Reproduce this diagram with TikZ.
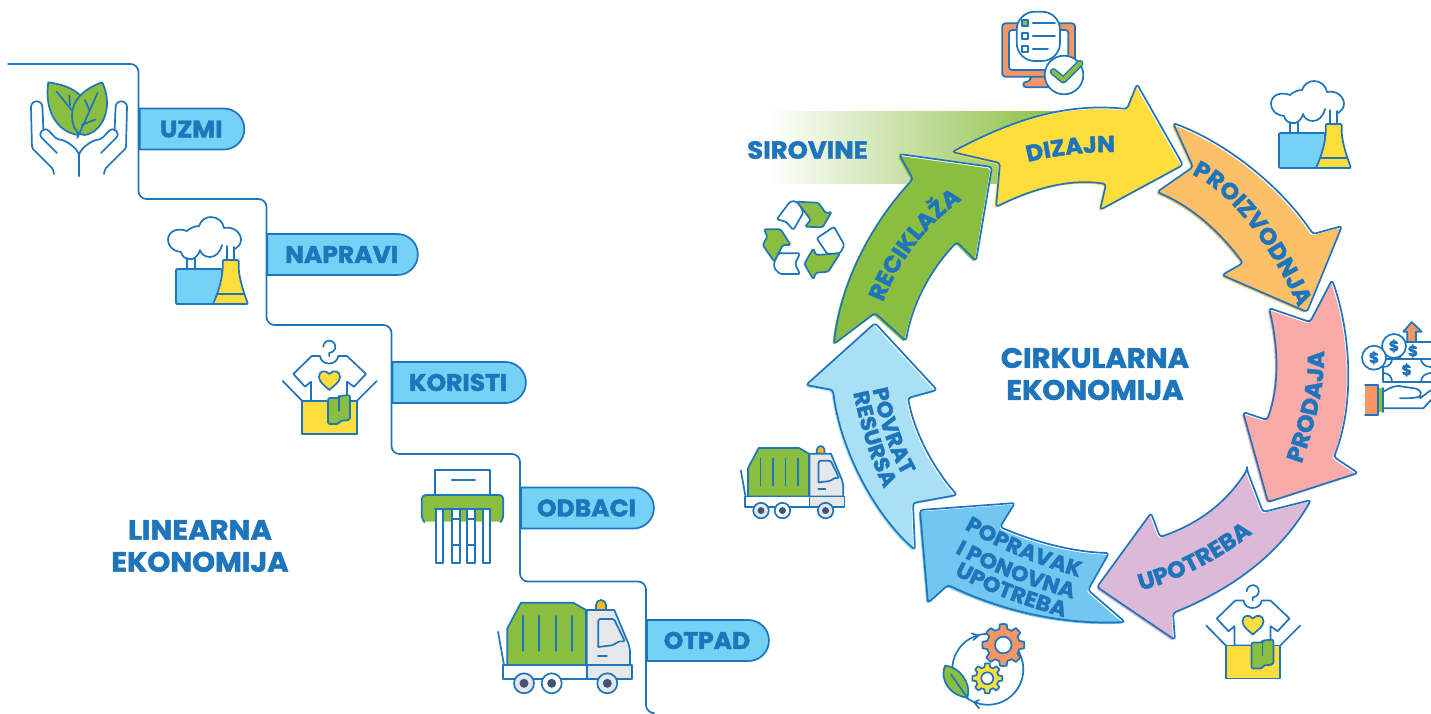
\documentclass[tikz,border=0pt]{standalone}
\usepackage{fontspec}
\usetikzlibrary{decorations.text,shapes.misc,arrows.meta}
\newfontfamily\pop[BoldFeatures={FakeStretch=1.04,FakeBold=1.8}]{Poppins}
\definecolor{ink}{HTML}{1F75BC}
\definecolor{pillc}{HTML}{75D1F5}
\definecolor{leaf}{HTML}{8ABE41}
\definecolor{sun}{HTML}{FFDD3C}
\definecolor{amber}{HTML}{FDC068}
\definecolor{rose}{HTML}{F8ABA8}
\definecolor{lilac}{HTML}{DDB9D8}
\definecolor{sky}{HTML}{72C7F0}
\definecolor{ice}{HTML}{A9E0F6}
\definecolor{coral}{HTML}{F79564}
\definecolor{steel}{HTML}{E6E7E8}
\definecolor{slate}{HTML}{3F5578}
\definecolor{beacon}{HTML}{FDB913}
\newcommand\capfont{\pop\bfseries\fontsize{24}{24}\selectfont}
\newcommand\headfont{\pop\bfseries\fontsize{28}{32}\selectfont}
\newcommand\arwfont{\pop\bfseries\fontsize{23}{23}\selectfont\color{ink}}
\newcommand\smfont{\pop\bfseries\fontsize{21.5}{21.5}\selectfont\color{ink}}
\newcommand\dollarfont{\pop\bfseries\fontsize{15}{15}\selectfont}
\newcommand\curvetxt[3]{\path[decorate,decoration={text along path,text align=center,text={|#1|#2}}] #3;}
\newcommand\arw[2]{%
  \fill[white,rounded corners=3] #1;
  \fill[#2,rounded corners=3,shift={(-1.6,1.6)}] #1;
  \draw[lin,rounded corners=3] #1;}
\newcommand\factoryicon{%
  \draw[lin] (186.7,258)--(186.7,270) (195,258)--(195,270) (226.7,246)--(226.7,260) (234,247)--(234,260);
  \draw[lin,fill=pillc,rounded corners=1] (176,269) rectangle (222,304);
  \draw[lin,fill=sun,rounded corners=1] (222.7,260) -- (238.7,260) -- (238.7,268) .. controls (239.5,280) and (244,293) .. (248,304) -- (213,304) .. controls (218,293) and (222,280) .. (222.7,268) -- cycle;
  \draw[lin] (217,294)--(244.5,294);
  \draw[lin] (235,249) .. controls (238,247) and (241,244) .. (241,240) .. controls (241,233) and (234,226) .. (224,228) .. controls (223,222) and (218,217) .. (211,217) .. controls (206,217) and (201,220) .. (199,226) .. controls (195,226) and (190,228) .. (187,231) .. controls (176,227) and (168,232) .. (168,240) .. controls (168,245) and (172,251) .. (181,252) .. controls (182,256) and (185,259) .. (189,259) .. controls (193,260) and (198,257) .. (200,250) .. controls (201,254) and (205,257) .. (210,257) .. controls (215,257) and (220,253) .. (222,245);}
\newcommand\shirticon{%
  \draw[lin] (323.3,346.7) arc[start angle=180,end angle=450,radius=6] -- (329.3,356);
  \draw[lin,fill=white] (311.7,356) -- (320,356) .. controls (321,366) and (337,366) .. (338.3,356) -- (347,356) -- (366,374) -- (354,386.7) -- (347,381.7) -- (347,401) -- (311,401) -- (311,381.7) -- (305,386.7) -- (293.3,374) -- cycle;
  \draw[lin,fill=sun] (329.3,374) .. controls (325,369) and (319,371) .. (319,377) .. controls (319,382) and (325,386) .. (329.3,390) .. controls (333.5,386) and (340,382) .. (340,377) .. controls (340,371) and (333.5,369) .. (329.3,374) -- cycle;
  \draw[lin,fill=sun] (302.3,401) rectangle (356.7,434);
  \draw[lin] (302.3,401)--(282.7,381) (356.7,401)--(376.7,381);
  \draw[lin,fill=leaf,rounded corners=2] (328,398) -- (339,398) -- (339,396) -- (350,395) -- (350,420) -- (339,421) -- (339,424) -- (328,424) -- cycle;
  \draw[lin] (339,396)--(339,411);}
\newcommand\truckicon{%
  \draw[lin] (498,631.7)--(504,665);
  \draw[lin,fill=leaf] (507.3,665)--(507.3,628.3)--(521,602.7)--(573.3,602.7)--(586,610)--(586,665)--cycle;
  \foreach \rx in {523.3,539.3,555.7,571.7}{\draw[lin] (\rx,616)--(\rx,651);}
  \draw[lin,fill=beacon] (596,610) -- (596,605) arc[start angle=180,end angle=360,radius=5] -- (606,610) -- cycle;
  \draw[lin,fill=steel] (586.7,610)--(614.3,610)--(628.3,643.3)--(630,650)--(630,665)--(586.7,665)--cycle;
  \draw[lin,rounded corners=1.5] (598.3,647)--(598.3,619)--(614,619)--(625,641.7) .. controls (618,640) and (615,645) .. (610,645.5) -- (598.3,647);
  \draw[lin] (598,655.7)--(607,655.7);
  \draw[lin,fill=white] (503.3,665) rectangle (586.7,679);
  \draw[lin,fill=steel] (586.7,665) rectangle (631.7,679);
  \foreach \wx in {524,607.3}{
    \draw[lin,fill=steel] (\wx,683.3) circle[radius=10];
    \fill[slate] (\wx,683.3) circle[radius=4.5];}
  \draw[lin,fill=white] (551.7,683.3) circle[radius=10];
  \fill[slate] (551.7,683.3) circle[radius=4.5];}
\newcommand\gearicon[7]{% cx cy ro ri hole colour teeth
  \pgfmathsetmacro\stp{360/#7}
  \draw[lin,fill=#6,line join=round] ([shift={(#1,#2)}]0:#3)
    \foreach \k in {1,...,#7}{
      -- ([shift={(#1,#2)}]\k*\stp-\stp+0.2*\stp:#3)
      -- ([shift={(#1,#2)}]\k*\stp-\stp+0.32*\stp:#4)
      -- ([shift={(#1,#2)}]\k*\stp-\stp+0.68*\stp:#4)
      -- ([shift={(#1,#2)}]\k*\stp-\stp+0.8*\stp:#3)
      -- ([shift={(#1,#2)}]\k*\stp:#3)
    } -- cycle;
  \draw[lin,fill=white] (#1,#2) circle[radius=#5];}
\tikzset{
  lin/.style={draw=ink,line width=1.7,line join=round,line cap=round},
  pill/.style={rounded rectangle,rounded rectangle west arc=none,draw=ink,line width=1.7,fill=pillc,minimum height=41,inner sep=0,text=ink,font=\capfont},
  headline/.style={text=ink,font=\headfont,inner sep=0,align=center}
}
\begin{document}
\begin{tikzpicture}[x=1pt,y=-1pt]
\useasboundingbox (0,0) rectangle (1431,713);
% ---------- staircase ----------
\coordinate (s0) at (8,64);
\coordinate (s1) at (138.5,64);
\coordinate (s2) at (138.5,199);
\coordinate (s3) at (266.5,199);
\coordinate (s4) at (266.5,325);
\coordinate (s5) at (391.5,325);
\coordinate (s6) at (391.5,454);
\coordinate (s7) at (520,454);
\coordinate (s8) at (520,581.5);
\coordinate (s9) at (646,581.5);
\coordinate (s10) at (646,713);
\coordinate (s11) at (652,713);
\draw[lin,rounded corners=8] (s0)--(s1)--(s2)--(s3)--(s4)--(s5)--(s6)--(s7)--(s8)--(s9)--(s10)--(s11);
% ---------- pills ----------
\node[pill,minimum width=104.5] (uzmi) at (191.2,129) {UZMI};
\node[pill,minimum width=150.5] (napravi) at (341.7,254.5) {NAPRAVI};
\node[pill,minimum width=133.5] (koristi) at (458.2,382.5) {KORISTI};
\node[pill,minimum width=133] (odbaci) at (586.5,508) {ODBACI};
\node[pill,minimum width=122] (otpad) at (707,640.5) {OTPAD};
\node[headline] (linear) at (200,546) {LINEARNA\\EKONOMIJA};
% ---------- hands and leaves ----------
\foreach \sc/\sh in {1/0,-1/158}{
\begin{scope}[shift={(\sh,0)},xscale=\sc]
  \draw[lin,rounded corners=1.5] (54,174)--(53,169)--(32,148)--(31,107);
  \draw[lin] (31,107) arc[start angle=180,end angle=360,radius=5.7] -- (43.4,130);
  \draw[lin] (57,153)--(42,138) .. controls (37,133) and (44,126) .. (49,131) .. controls (54,136) and (56,140) .. (62,140) .. controls (69,142) and (79,150) .. (79,156)--(79,176);
\end{scope}}
\draw[lin,fill=leaf] (48.3,82.3) .. controls (60,84) and (72,87) .. (81,96) -- (78,135) .. controls (58,132) and (44,112) .. (48.3,82.3) -- cycle;
\draw[lin] (56.7,91.7)--(71.7,110) (69.3,95)--(70,105);
\draw[lin,fill=leaf] (102.3,82.3) .. controls (85,88) and (72,100) .. (72,115) .. controls (72,128) and (78,135) .. (84,135) .. controls (100,134) and (115,110) .. (102.3,82.3) -- cycle;
\draw[lin] (97.7,92.7)--(77.3,138) (85,100)--(89.3,110) (81.7,125)--(95.7,119.3);
% ---------- icons on the staircase ----------
\factoryicon
\shirticon
% shredder
\draw[lin,fill=white] (435,470) rectangle (490,495);
\draw[lin] (451.7,480.3)--(475,480.3);
\fill[leaf,rounded corners=3] (421.7,495) rectangle (503.3,521.7);
\draw[lin,rounded corners=4] (424,521.7)--(421.7,519)--(421.7,495)--(503.3,495)--(503.3,519)--(501,521.7);
\draw[lin] (435,508.7)--(490,508.7);
\foreach \sx/\sy in {435.7/443.3,452.3/460,467.3/475,482.7/490}{\draw[lin,fill=white] (\sx,508.7) rectangle (\sy,562.7);}
\draw[lin] (452.3,519)--(460,519) (467.3,519)--(475,519) (452.3,545)--(460,545) (467.3,545)--(475,545);
\truckicon
% ---------- raw material band ----------
\shade[left color=white,right color=leaf] (768,111) rectangle (1062,183);
\node[text=ink,font=\pop\bfseries\fontsize{24.8}{24.8}\selectfont,inner sep=0] (sirovine) at (807.5,150) {SIROVINE};
% ---------- arrows ----------
\arw{(952,152) .. controls (1005,124) and (1060,102) .. (1127,109) -- (1137,84) -- (1183,165) -- (1100,210) -- (1106,184) .. controls (1068,178) and (1030,190) .. (996,207) -- (1000,163) -- cycle}{sun}
\arw{(1173,123) .. controls (1225,142) and (1280,185) .. (1313,234) -- (1342,226) -- (1307,312) -- (1222,275) -- (1243,263) .. controls (1222,235) and (1195,208) .. (1157,192) -- (1193,167) -- cycle}{amber}
\arw{(1332,280) .. controls (1347,320) and (1358,395) .. (1334,457) -- (1358,473) -- (1268,502) -- (1243,412) -- (1267,420) .. controls (1280,385) and (1278,345) .. (1269,308) -- (1310,322) -- cycle}{rose}
\arw{(1247,470) -- (1263,512) -- (1311,500) .. controls (1280,555) and (1230,590) .. (1173,613) -- (1175,640) -- (1097,587) -- (1151,513) -- (1160,537) .. controls (1195,525) and (1225,505) .. (1247,470) -- cycle}{lilac}
\arw{(920,510) -- (1015,503) -- (1000,527) .. controls (1030,540) and (1070,552) .. (1109,553) -- (1088,590) -- (1125,622) .. controls (1060,625) and (1000,610) .. (948,585) -- (928,603) -- cycle}{sky}
\arw{(875,323) -- (806,385) -- (833,390) .. controls (840,450) and (875,515) .. (915,550) -- (913,503) -- (957,495) .. controls (935,470) and (915,435) .. (908,398) -- (937,390) -- cycle}{ice}
\arw{(992,167) -- (899,154) -- (913,179) .. controls (870,225) and (840,285) .. (834,344) -- (875,313) -- (906,341) .. controls (912,305) and (930,270) .. (957,242) -- (976,261) -- cycle}{leaf}
% ---------- arrow labels ----------
\curvetxt{\arwfont}{DIZAJN}{(1028,162) .. controls (1057,155) and (1085,152) .. (1115,152)}
\curvetxt{\arwfont}{PROIZVODNJA}{(1197,177) .. controls (1235,197) and (1272,250) .. (1296,302)}
\curvetxt{\arwfont}{PRODAJA}{(1302,462) .. controls (1313,430) and (1325,390) .. (1324,353)}
\curvetxt{\arwfont}{UPOTREBA}{(1139,591) .. controls (1175,582) and (1220,560) .. (1254,532)}
\curvetxt{\smfont}{POPRAVAK}{(958,525) .. controls (990,545) and (1035,565) .. (1086,579)}
\curvetxt{\smfont}{I PONOVNA}{(950,550) .. controls (985,570) and (1030,587) .. (1078,600)}
\curvetxt{\smfont}{UPOTREBA}{(948,571) .. controls (980,590) and (1025,607) .. (1071,619)}
\curvetxt{\smfont}{POVRAT}{(872,387) .. controls (879,420) and (888,450) .. (904,478)}
\curvetxt{\smfont}{RESURSA}{(852,387) .. controls (860,425) and (870,462) .. (887,494)}
\curvetxt{\arwfont}{RECIKLAŽA}{(883,302) .. controls (897,265) and (925,225) .. (962,200)}
\node[headline] (cirk) at (1095,374) {CIRKULARNA\\EKONOMIJA};
% ---------- monitor ----------
\draw[lin,fill=coral,rounded corners=3] (1002.3,23.3)--(1075,23.3)--(1075,76.7)--(1030,76.7)--(1030,81.7)--(1023.3,81.7)--(1023.3,87.3)--(1056.7,87.3)--(1056.7,76.7)--(1002.3,76.7)--cycle;
\draw[lin,fill=white,rounded corners=3] (1009,30) rectangle (1068.3,70);
\draw[lin,fill=white,rounded corners=18] (1016.7,11.7) rectangle (1060,61);
\draw[lin,fill=leaf] (1022,19.7) rectangle (1028,25.7);
\draw[lin,fill=white] (1022,33) rectangle (1028,39);
\draw[lin,fill=white] (1022,46.3) rectangle (1028,52.3);
\draw[lin] (1032.7,22.7)--(1055,22.7) (1032.7,36)--(1055,36) (1032.7,49.3)--(1048,49.3);
\draw[lin,fill=white] (1064,75) circle[radius=19.3];
\draw[ink,line width=7,line cap=round,line join=round] (1053.3,71.7)--(1063.3,80)--(1080,63.3);
\draw[leaf,line width=4,line cap=round,line join=round] (1053.3,71.7)--(1063.3,80)--(1080,63.3);
% ---------- second factory, second shirt, second truck ----------
\begin{scope}[shift={(1103,-136)}]\factoryicon\end{scope}
\begin{scope}[shift={(923.5,244.5)}]\shirticon\end{scope}
\begin{scope}[shift={(354.9,-19)},scale=.775]\truckicon\end{scope}
% ---------- recycling ----------
\draw[lin,fill=white,rounded corners=1.5] (790,201.7)--(776.7,219.3)--(786,221.7)--(793.3,230)--(803.3,212.7)--(800,205)--(795,201)--cycle;
\draw[lin,fill=leaf,rounded corners=1.5] (796.7,201.7)--(818.3,202.7)--(826,213.3)--(831.7,211.7)--(822.7,227.3)--(805,226.7)--(810.7,220)--(803.3,210)--cycle;
\draw[lin,fill=white,rounded corners=1.5] (816.7,238.3)--(834,226.7)--(844.3,245)--(840,253.3)--(827.3,254)--cycle;
\draw[lin,fill=leaf,rounded corners=1.5] (840,253.3)--(828.3,271.7)--(816,272.7)--(813.3,279.3)--(804.3,264)--(813.3,248.3)--(816,255)--cycle;
\draw[lin,fill=white,rounded corners=1.5] (774.3,261.7)--(778.3,253.3)--(800,253.3)--(795,264)--(800,274)--(780,274)--(774.3,268.3)--cycle;
\draw[lin,fill=leaf,rounded corners=1.5] (764,229.3)--(780.7,229.3)--(790.7,245)--(782.7,245)--(774.3,261.7)--(762.7,245)--(767.3,236.7)--cycle;
% ---------- money ----------
\begin{scope}
\clip (1350,310) rectangle (1431,430);
\draw[lin,fill=coral] (1411.7,322)--(1421.7,331.7)--(1416,331.7)--(1416,342)--(1407.3,342)--(1407.3,331.7)--(1403.3,331.7)--cycle;
\draw[lin,fill=white] (1400,341.7) rectangle (1440,360);
\node[text=ink,font=\dollarfont,inner sep=0] (d3) at (1413,351) {\$};
\draw[lin,fill=white] (1383,359) rectangle (1440,381.7);
\node[text=ink,font=\dollarfont,inner sep=0] (d4) at (1406.7,370) {\$};
\draw[lin] (1383,373) .. controls (1389,373) and (1392,377) .. (1392,381.7) (1383,367) .. controls (1389,367) and (1392,363) .. (1392,359) (1431,367) .. controls (1425,367) and (1421,363) .. (1421,359) (1431,373) .. controls (1425,373) and (1421,377) .. (1421,381.7);
\draw[lin,fill=white] (1394,346) circle[radius=12];
\node[text=ink,font=\dollarfont,inner sep=0] (d2) at (1394,346) {\$};
\draw[lin,fill=white] (1374,357.7) circle[radius=12];
\node[text=ink,font=\dollarfont,inner sep=0] (d1) at (1374,357.7) {\$};
\fill[leaf] (1378.3,388) rectangle (1383.3,412);
\fill[coral] (1365,385) rectangle (1378.3,415);
\draw[lin] (1365,385)--(1378.3,385)--(1378.3,415)--(1365,415) (1383.3,388)--(1383.3,412);
\draw[lin] (1383.3,391.7) .. controls (1390,388) and (1393,386) .. (1399,386) -- (1412,388) .. controls (1418,388) and (1423,392) .. (1420,396) .. controls (1418,398) and (1410,398.3) .. (1400,398.3) (1420,398.3)--(1431,390) (1383.3,408.3)--(1423.3,408.3)--(1431,400);
\end{scope}
% ---------- gears ----------
\coordinate (ring) at (987.8,669.3);
\draw[lin] ([shift={(ring)}]180:35.5) arc[start angle=180,end angle=290,radius=35.5];
\draw[lin] ([shift={(ring)}]-35:35.5) arc[start angle=-35,end angle=130,radius=35.5];
\draw[lin] (971.7,633.3)--(978.3,635.7)--(973.3,640);
\draw[lin] (979,700)--(974.3,702.3)--(979,708.3);
\gearicon{1003.3}{645}{21}{16.5}{8.3}{coral}{8}
\gearicon{987.3}{678.3}{15}{11.5}{6}{sun}{8}
\draw[lin,fill=leaf] (945,665.7) .. controls (958,666) and (972,682) .. (967.3,697.7) .. controls (952,696) and (939,682) .. (945,665.7) -- cycle;
\draw[lin] (951,674.3)--(967.3,697.7);
\end{tikzpicture}
\end{document}
